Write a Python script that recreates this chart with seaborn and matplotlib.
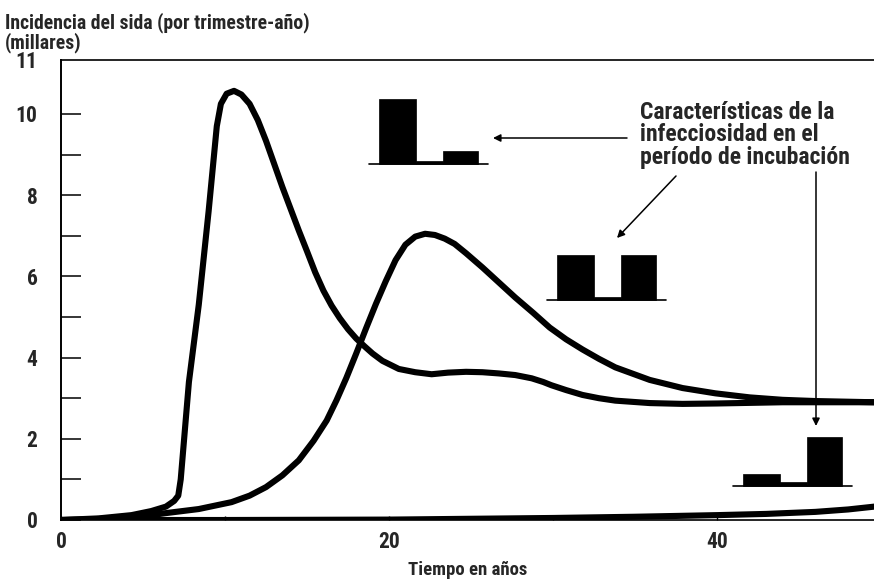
import numpy as np
import pandas as pd
import matplotlib
matplotlib.use("Agg")
import matplotlib.pyplot as plt
import seaborn as sns
from matplotlib import font_manager

# ---------------- data ----------------
years_a = [0, 2.3, 4.3, 5.5, 6.4, 6.9, 7.15, 7.3, 7.8, 8.4, 9.0, 9.5, 9.75, 10.1, 10.55,
           11.0, 11.5, 12.0, 12.5, 13.5, 14.5, 15.0, 15.5, 16.0, 16.5, 17.0, 17.5,
           18.0, 18.5, 19.0, 19.6, 20.6, 21.6, 22.6, 23.6, 24.7, 25.7, 26.7, 27.7,
           28.7, 29.4, 29.9, 30.8, 31.8, 32.8, 33.8, 35.9, 37.9, 40.0, 44.0, 49.6]
inc_a = [0.0, 0.04, 0.12, 0.22, 0.33, 0.47, 0.6, 1.0, 3.4, 5.3, 7.6, 9.7, 10.25, 10.5, 10.57,
         10.48, 10.25, 9.85, 9.34, 8.2, 7.13, 6.62, 6.1, 5.65, 5.28, 4.97, 4.7,
         4.47, 4.28, 4.1, 3.92, 3.72, 3.64, 3.59, 3.63, 3.65, 3.64, 3.61, 3.57,
         3.49, 3.4, 3.32, 3.2, 3.08, 3.0, 2.94, 2.88, 2.86, 2.87, 2.9, 2.9]

years_b = [0, 2, 4, 5.5, 6.4, 8.4, 10.4, 11.5, 12.5, 13.5, 14.5, 15.4, 16.2, 16.8, 17.4,
           18.0, 18.6, 19.2, 19.8, 20.4, 21.0, 21.6, 22.2, 22.8, 23.4, 24.0, 24.7,
           25.7, 26.7, 27.7, 28.8, 29.8, 30.8, 31.8, 32.8, 33.8, 35.9, 37.9, 39.9,
           42.0, 44.0, 46.0, 49.6]
inc_b = [0.0, 0.02, 0.06, 0.12, 0.17, 0.27, 0.44, 0.6, 0.81, 1.1, 1.47, 1.95, 2.45, 2.95, 3.5,
         4.1, 4.72, 5.32, 5.88, 6.4, 6.78, 6.98, 7.05, 7.02, 6.93, 6.8, 6.57,
         6.22, 5.85, 5.48, 5.1, 4.74, 4.45, 4.2, 3.97, 3.76, 3.45, 3.25, 3.12,
         3.02, 2.96, 2.93, 2.9]

years_c = [0, 10, 20, 25, 30, 35, 40, 43, 46, 48, 49.6]
inc_c = [0.0, 0.0, 0.01, 0.03, 0.05, 0.08, 0.12, 0.15, 0.2, 0.26, 0.33]

yticks_major = [0, 2, 4, 6, 8, 10]
yticks_minor = [1, 3, 5, 7, 9]
ytick_top_label = "11"
xticks_major = [0, 20, 40]
xticks_minor = [10, 30]

# infectiousness profiles over the incubation period (three phases)
phase_widths = [37, 27, 35]
icon_early = [65, 3, 13]
icon_flat = [45, 3, 45]
icon_late = [12, 4, 49]

title_line1 = "Incidencia del sida (por trimestre-año)"
title_line2 = "(millares)"
xlabel = "Tiempo en años"
note = "Características de la\ninfecciosidad en el\nperíodo de incubación"

# ---------------- style ----------------
sns.set_theme(style="white")
names = {f.name for f in font_manager.fontManager.ttflist}
fam = [f for f in ["Liberation Sans Narrow", "Roboto Condensed", "Liberation Sans"] if f in names]
plt.rcParams["font.family"] = fam + ["DejaVu Sans"]
plt.rcParams["font.weight"] = "bold"

W, H = 874, 581
fig = plt.figure(figsize=(W / 100, H / 100), dpi=100)

def fp(x, y):
    return (x / W, 1 - y / H)

ax_left, ax_right, ax_top, ax_bot = 61, 874, 60, 520
ax = fig.add_axes([ax_left / W, 1 - ax_bot / H, (ax_right - ax_left) / W, (ax_bot - ax_top) / H])

df_a = pd.DataFrame({"t": years_a, "v": inc_a})
df_b = pd.DataFrame({"t": years_b, "v": inc_b})
df_c = pd.DataFrame({"t": years_c, "v": inc_c})
for d in (df_c, df_b, df_a):
    sns.lineplot(data=d, x="t", y="v", ax=ax, color="black", lw=4.4,
                 sort=False, estimator=None, solid_capstyle="butt",
                 solid_joinstyle="round", clip_on=True)

xmax = (ax_right - ax_left) / 16.4
ymax = (ax_bot - ax_top) / 40.6
ax.set_xlim(0, xmax)
ax.set_ylim(0, ymax)

ax.spines["right"].set_visible(False)
for s in ["left", "top", "bottom"]:
    ax.spines[s].set_visible(True)
    ax.spines[s].set_color("black")
ax.spines["left"].set_linewidth(1.4)
ax.spines["top"].set_linewidth(1.2)
ax.spines["bottom"].set_linewidth(1.2)

ax.set_yticks(yticks_major + [ymax])
ax.set_yticklabels([str(v) for v in yticks_major] + [ytick_top_label])
ax.set_yticks(yticks_minor, minor=True)
ax.set_xticks(xticks_major)
ax.set_xticklabels([str(v) for v in xticks_major])
ax.set_xticks(xticks_minor, minor=True)

ax.tick_params(axis="y", which="both", direction="in", length=14.5, width=1.1,
               color="black", pad=17, labelsize=15.5, left=True)
ax.tick_params(axis="x", which="both", direction="in", length=3, width=1.0,
               color="black", pad=8, labelsize=15.5, bottom=True)
ax.yaxis.get_major_ticks()[-1].tick1line.set_visible(False)
for lbl in ax.get_xticklabels() + ax.get_yticklabels():
    lbl.set_fontweight("bold")
ax.set_xlabel(xlabel, fontsize=13.5, fontweight="bold", labelpad=6)
ax.set_ylabel("")

fig.text(*fp(5, 28), title_line1, ha="left", va="baseline",
         fontsize=14.2, fontweight="bold")
fig.text(*fp(5, 48), title_line2, ha="left", va="baseline",
         fontsize=14.2, fontweight="bold")

fig.text(*fp(640, 101), note, ha="left", va="top", fontsize=17,
         fontweight="bold", linespacing=0.96)

arrow = dict(arrowstyle="-|>", lw=1.1, color="black", mutation_scale=11,
             shrinkA=0, shrinkB=0)
fig.add_artist(matplotlib.patches.FancyArrowPatch(fp(627, 138), fp(493, 138),
               transform=fig.transFigure, **arrow))
fig.add_artist(matplotlib.patches.FancyArrowPatch(fp(676, 176), fp(617, 238),
               transform=fig.transFigure, **arrow))
fig.add_artist(matplotlib.patches.FancyArrowPatch(fp(816, 172), fp(816, 426),
               transform=fig.transFigure, **arrow))

def icon(heights, x_start, baseline):
    pad = 10
    total = sum(phase_widths)
    iax = fig.add_axes([(x_start - pad) / W, 1 - (baseline + 2) / H,
                        (total + 2 * pad) / W, 72 / H])
    edges = np.concatenate([[0], np.cumsum(phase_widths)[:-1]])
    iax.bar(edges, heights, width=phase_widths, align="edge", color="black",
            edgecolor="black", linewidth=0.5)
    iax.plot([-pad, total + pad], [0, 0], color="black", lw=1.2, clip_on=False)
    iax.set_xlim(-pad, total + pad)
    iax.set_ylim(-2, 70)
    iax.axis("off")

icon(icon_early, 379, 164)
icon(icon_flat, 557, 300)
icon(icon_late, 743, 486)

fig.savefig("out.png", dpi=100)
